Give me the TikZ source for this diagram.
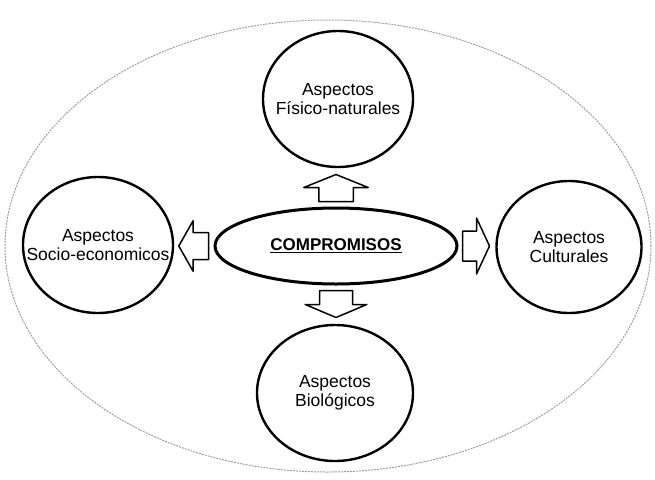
\documentclass[tikz,border=0pt]{standalone}
\usepackage{fontspec}
\setmainfont{Liberation Sans}
\usetikzlibrary{shapes,positioning,calc}

\tikzset{
  aspecto/.style={draw,ellipse,line width=2.4pt,inner sep=0pt,
    minimum width=150pt,minimum height=136pt,
    label={[align=center,font=\fontsize{17.5}{19}\selectfont]center:#1}},
  arrowline/.style={draw,fill=white,line width=1.5pt,line join=round},
  blockarrow/.pic={\path[arrowline] (0,-15) -- (14,-15) -- (14,-28) -- (27,0)
      -- (14,28) -- (14,15) -- (0,15) -- cycle;}
}

\begin{document}
\begin{tikzpicture}[x=1pt,y=-1pt]
		\useasboundingbox (0,0) rectangle (655,479);
		\node[draw=gray!75,dash pattern=on 2pt off 1pt,line width=1pt,ellipse,
		  minimum width=646pt,minimum height=452pt] (marco) at (328,246) {};
		\node[draw,ellipse,line width=3pt,minimum width=242pt,minimum height=76pt,
		  inner sep=0pt,font=\fontsize{17}{19}\selectfont\bfseries] (comp) at (336,246)
		  {\underline{COMPROMISOS}};
		\node[aspecto={Aspectos\\Físico-naturales}] (fisico) at (338,99) {};
		\node[aspecto={Aspectos\\Socio-economicos}] (socio) at (98,245) {};
		\node[aspecto={Aspectos\\Culturales},minimum width=145pt,minimum height=132pt] (cultura) at (569,247) {};
		\node[aspecto={Aspectos\\Biológicos},minimum width=156pt] (bio) at (335,393) {};
		% flechas de bloque
		\pic[rotate=90,yscale=1.15] at ($(comp.north)+(0,-5)$) {blockarrow};
		\pic[rotate=-90,yscale=1.1] at ($(comp.south)+(0,5)$) {blockarrow};
		\pic[rotate=180,yscale=0.9,xscale=1.1] at ($(comp.west)+(-5,0)$) {blockarrow};
		\pic at ($(comp.east)+(4,0)$) {blockarrow};
\end{tikzpicture}
\end{document}
